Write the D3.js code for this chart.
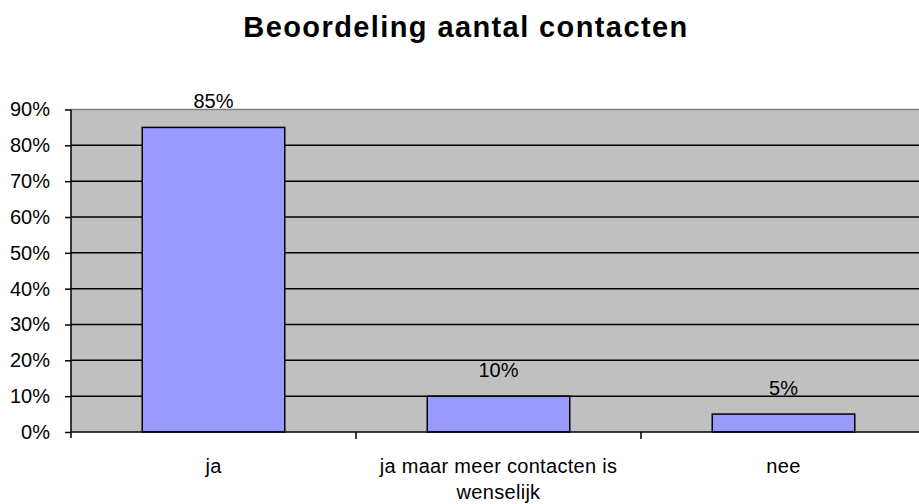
<!DOCTYPE html>
<html>
<head>
<meta charset="utf-8">
<script src="https://cdn.jsdelivr.net/npm/d3@7"></script>
<style>
  body { margin: 0; background: #fff; }
  svg { display: block; font-family: "Liberation Sans", Arial, sans-serif; }
</style>
</head>
<body>
<svg id="chart" width="919" height="504"></svg>
<script>
// data
var categories = ["ja", "ja maar meer contacten is wenselijk", "nee"];
var catLines = [["ja"], ["ja maar meer contacten is", "wenselijk"], ["nee"]];
var values = [0.85, 0.10, 0.05];
var yTicks = [0, 0.1, 0.2, 0.3, 0.4, 0.5, 0.6, 0.7, 0.8, 0.9];
var title = "Beoordeling aantal contacten";

var svg = d3.select("#chart"),
    width = +svg.attr("width"),
    height = +svg.attr("height");

// note: "top" is window.top, so use other names
var plotLeft = 71, plotRight = 926, plotTop = 109.5, plotBottom = 432;

var x = d3.scaleBand().domain(categories).range([plotLeft, plotRight])
    .paddingInner(0.5).paddingOuter(0.25);
var y = d3.scaleLinear().domain([0, 0.9]).range([plotBottom, plotTop]);

// title
svg.append("text")
    .attr("x", 466).attr("y", 37)
    .attr("text-anchor", "middle")
    .attr("font-size", "29px").attr("font-weight", "bold")
    .attr("letter-spacing", "1.4px")
    .text(title);

// plot background
svg.append("rect")
    .attr("x", plotLeft).attr("y", plotTop)
    .attr("width", plotRight - plotLeft).attr("height", plotBottom - plotTop)
    .attr("fill", "#c0c0c0");

// gridlines
svg.append("g").selectAll("line")
    .data(yTicks.slice(1, -1))
    .enter().append("line")
    .attr("x1", plotLeft).attr("x2", plotRight)
    .attr("y1", function(d) { return y(d); })
    .attr("y2", function(d) { return y(d); })
    .attr("stroke", "#000").attr("stroke-width", 1.5);

// plot top border (grey)
svg.append("line")
    .attr("x1", plotLeft).attr("x2", plotRight)
    .attr("y1", plotTop).attr("y2", plotTop)
    .attr("stroke", "#808080").attr("stroke-width", 1.5);

// bars
svg.append("g").selectAll("rect")
    .data(values)
    .enter().append("rect")
    .attr("x", function(d, i) { return x(categories[i]); })
    .attr("y", function(d) { return y(d); })
    .attr("width", x.bandwidth())
    .attr("height", function(d) { return plotBottom - y(d); })
    .attr("fill", "#9999ff")
    .attr("stroke", "#000").attr("stroke-width", 1.5);

// value labels
svg.append("g").selectAll("text")
    .data(values)
    .enter().append("text")
    .attr("x", function(d, i) { return x(categories[i]) + x.bandwidth() / 2; })
    .attr("y", function(d) { return y(d) - 19; })
    .attr("text-anchor", "middle")
    .attr("font-size", "20px").attr("fill", "#000")
    .text(function(d) { return d3.format(".0%")(d); });

// y axis
var yAxis = d3.axisLeft(y).tickValues(yTicks).tickFormat(d3.format(".0%"))
    .tickSizeInner(6).tickSizeOuter(0).tickPadding(15);
var gy = svg.append("g").attr("transform", "translate(" + plotLeft + ",0)").call(yAxis);
gy.select(".domain").attr("stroke", "#000").attr("stroke-width", 1.5)
    .attr("d", "M0," + plotTop + "V" + (plotBottom + 6));
gy.selectAll(".tick line").attr("stroke-width", 1.5);
gy.selectAll(".tick text").attr("font-size", "20px").attr("font-family", "Liberation Sans, Arial, sans-serif").attr("fill", "#000");

// x axis line
svg.append("line")
    .attr("x1", plotLeft).attr("x2", width)
    .attr("y1", plotBottom).attr("y2", plotBottom)
    .attr("stroke", "#000").attr("stroke-width", 1.5);

// x ticks between categories
svg.append("g").selectAll("line")
    .data(categories.slice(1))
    .enter().append("line")
    .attr("x1", function(d) { return x(d) - x.step() * x.paddingInner() / 2; })
    .attr("x2", function(d) { return x(d) - x.step() * x.paddingInner() / 2; })
    .attr("y1", plotBottom).attr("y2", plotBottom + 7)
    .attr("stroke", "#000").attr("stroke-width", 1.5);

// category labels
var cl = svg.append("g").selectAll("text")
    .data(categories)
    .enter().append("text")
    .attr("x", function(d) { return x(d) + x.bandwidth() / 2; })
    .attr("y", 473)
    .attr("text-anchor", "middle")
    .attr("font-size", "20px")
    .attr("letter-spacing", "0.3px");
cl.each(function(d, i) {
    var t = d3.select(this);
    catLines[i].forEach(function(line, j) {
        t.append("tspan")
            .attr("x", x(d) + x.bandwidth() / 2)
            .attr("dy", j === 0 ? 0 : 26)
            .text(line);
    });
});
</script>
</body>
</html>
